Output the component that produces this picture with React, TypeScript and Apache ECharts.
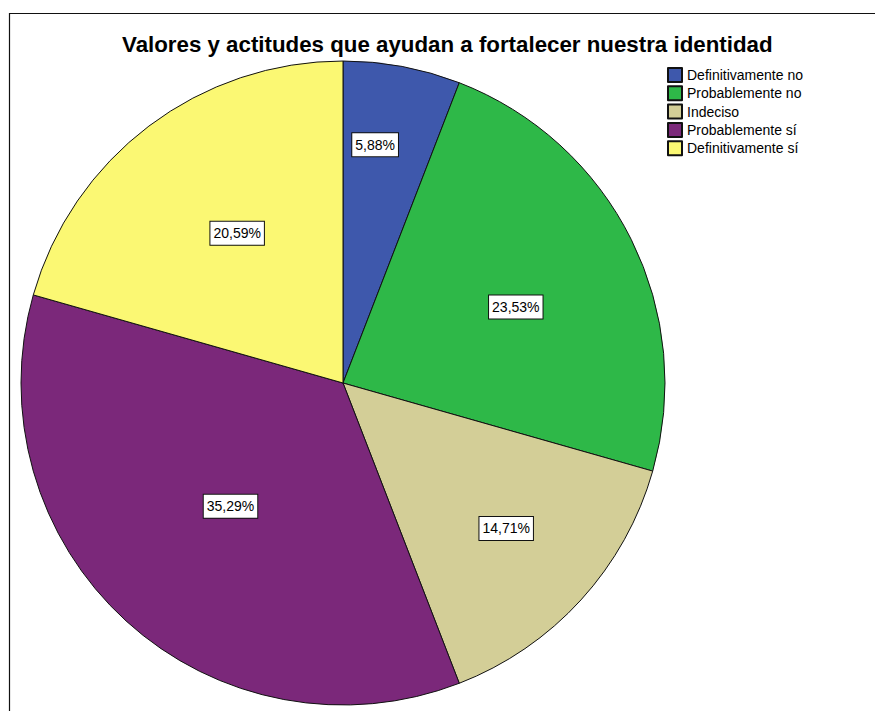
import React, { useEffect, useRef } from "react";
import * as echarts from "echarts";

const categories = [
  "Definitivamente no",
  "Probablemente no",
  "Indeciso",
  "Probablemente sí",
  "Definitivamente sí",
];
const percentages = [5.88, 23.53, 14.71, 35.29, 20.59];
const labelTexts = ["5,88%", "23,53%", "14,71%", "35,29%", "20,59%"];
const colors = ["#3E58AC", "#2EB848", "#D3CE97", "#7B287A", "#FBF873"];
// label nudges (px) from the default inside position
const labelNudges: [number, number][] = [
  [2, -77],
  [26, -3],
  [42, 35],
  [-2, 2],
  [-7, -19],
];

const FONT = "'Liberation Sans', Arial, sans-serif";

export default function App() {
  const ref = useRef<HTMLDivElement>(null);
  useEffect(() => {
    if (!ref.current) return;
    const chart = echarts.init(ref.current, null, { renderer: "svg" });
    chart.setOption({
      animation: false,
      backgroundColor: "#ffffff",
      title: {
        text: "Valores y actitudes que ayudan a fortalecer nuestra identidad",
        left: 122,
        top: 33,
        padding: 0,
        textStyle: {
          fontFamily: FONT,
          fontSize: 22.3,
          fontWeight: "bold",
          color: "#000",
        },
      },
      legend: {
        orient: "vertical",
        left: 667,
        top: 67,
        padding: 0,
        itemWidth: 14,
        itemHeight: 14,
        itemGap: 2.3,
        itemTextGap: 5,
        icon: "rect",
        selectedMode: false,
        textStyle: {
          fontFamily: FONT,
          fontSize: 14,
          color: "#000",
          lineHeight: 14,
        },
        data: categories,
      },
      graphic: [
        {
          type: "rect",
          shape: { x: 9.5, y: 13.5, width: 1000, height: 1000 },
          style: { fill: "none", stroke: "#111", lineWidth: 1.2 },
          silent: true,
          z: 100,
        },
      ],
      series: [
        {
          type: "pie",
          center: [343, 383],
          radius: 322,
          startAngle: 90,
          clockwise: true,
          avoidLabelOverlap: false,
          label: {
            show: true,
            position: "inside",
            formatter: (p: any) => labelTexts[p.dataIndex],
            fontFamily: FONT,
            fontSize: 14,
            color: "#000",
            backgroundColor: "#fff",
            borderColor: "#111",
            borderWidth: 1,
            padding: [5, 3, 4, 3],
          },
          labelLayout: (params: any) => ({
            dx: labelNudges[params.dataIndex][0],
            dy: labelNudges[params.dataIndex][1],
          }),
          labelLine: { show: false },
          itemStyle: { borderColor: "#111", borderWidth: 1 },
          emphasis: { disabled: true },
          data: categories.map((name, i) => ({
            name,
            value: percentages[i],
            itemStyle: { color: colors[i] },
          })),
        },
      ],
    });
    return () => chart.dispose();
  }, []);
  return (
    <div
      ref={ref}
      style={{ position: "fixed", left: 0, top: 0, width: 875, height: 711 }}
    />
  );
}
